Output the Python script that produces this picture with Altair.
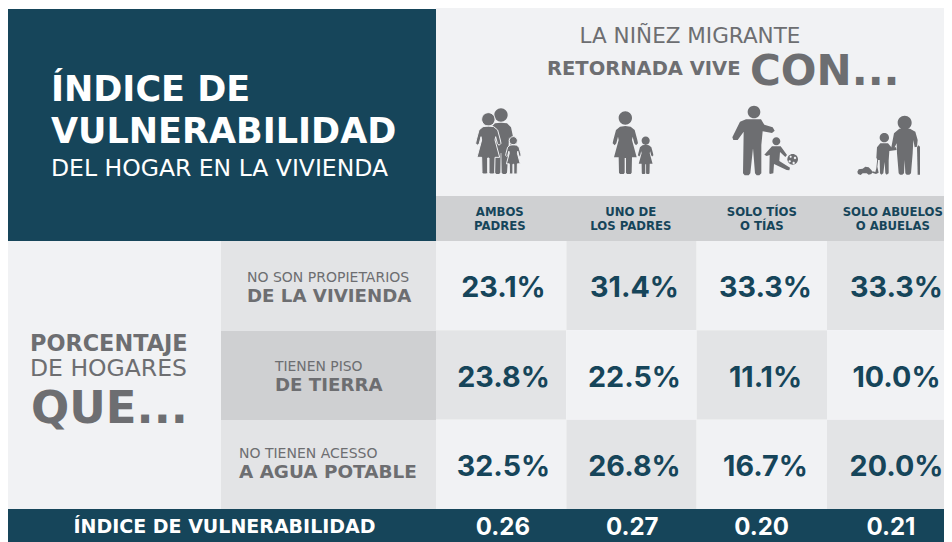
import altair as alt
import pandas as pd

FONT = "DejaVu Sans"
NUM_FONT = "Inter"
TEAL = "#16455a"
GREY = "#6d6e71"
LIGHT = "#f1f2f4"
MID = "#e3e4e6"
DARK = "#cfd0d2"
OX, OY = 8, 8

COLUMNS = ["Ambos padres", "Uno de los padres", "Solo tíos o tías", "Solo abuelos o abuelas"]
COLUMN_LABELS = ["AMBOS\nPADRES", "UNO DE\nLOS PADRES", "SOLO TÍOS\nO TÍAS", "SOLO ABUELOS\nO ABUELAS"]
ROWS = ["propietarios", "piso", "agua"]
NO_PROPIETARIOS = [23.1, 31.4, 33.3, 33.3]
PISO_TIERRA = [23.8, 22.5, 11.1, 10.0]
SIN_AGUA = [32.5, 26.8, 16.7, 20.0]
INDICE = [0.26, 0.27, 0.20, 0.21]

cell_rows = []
for r, (row, series) in enumerate(zip(ROWS, [NO_PROPIETARIOS, PISO_TIERRA, SIN_AGUA])):
    for c, (col, v) in enumerate(zip(COLUMNS, series)):
        cell_rows.append({"col": col, "row": row, "value": v,
                          "label": f"{v:.1f}%", "shade": "a" if (r + c) % 2 == 0 else "b"})
cells = pd.DataFrame(cell_rows)
index_df = pd.DataFrame({"col": COLUMNS, "label": [f"{v:.2f}" for v in INDICE]})
head_df = pd.DataFrame({"col": COLUMNS, "label": COLUMN_LABELS})

rect_x = alt.Scale(domain=COLUMNS, range=[428, 949.3], paddingInner=0, paddingOuter=0)
text_x = alt.Scale(domain=COLUMNS, range=[430, 954], paddingInner=0, paddingOuter=0)
head_x = alt.Scale(domain=COLUMNS, range=[426.3, 950.3], paddingInner=0, paddingOuter=0)
index_x = alt.Scale(domain=COLUMNS, range=[430.3, 947.6], paddingInner=0, paddingOuter=0)
row_y = alt.Scale(domain=ROWS, range=[233, 501], paddingInner=0, paddingOuter=0)


def box(x0, y0, x1, y1, color):
    return alt.Chart(pd.DataFrame({"a": [0]})).mark_rect(color=color, opacity=1).encode(
        x=alt.value(x0 - OX), x2=alt.value(x1 - OX), y=alt.value(y0 - OY), y2=alt.value(y1 - OY))


def label(text, x, y, size, color=GREY, weight="normal", align="left", font=FONT):
    return alt.Chart(pd.DataFrame({"t": [text]})).mark_text(
        font=font, fontSize=size, fontWeight=weight, color=color, align=align, baseline="alphabetic"
    ).encode(text="t:N", x=alt.value(x - OX), y=alt.value(y - OY))


def circle(cx, cy, r):
    k = 0.5523 * r
    return (("M", cx + r, cy), ("C", cx + r, cy + k, cx + k, cy + r, cx, cy + r),
            ("C", cx - k, cy + r, cx - r, cy + k, cx - r, cy),
            ("C", cx - r, cy - k, cx - k, cy - r, cx, cy - r),
            ("C", cx + k, cy - r, cx + r, cy - k, cx + r, cy), ("Z",))


def poly(pts):
    out = [("M", *pts[0])] + [("L", *p) for p in pts[1:]] + [("Z",)]
    return tuple(out)


WOMAN_HALF = [(0, 108), (16, 110), (28, 120), (36, 150), (38, 160), (32, 166), (27, 160), (22, 140),
              (20, 150), (34, 202), (20, 202), (19, 248), (16, 252), (5, 252), (2, 248), (2, 204), (0, 204)]
MAN_HALF = [(0, 98), (18, 100), (30, 112), (37, 145), (36, 165), (28, 165), (24, 140), (22, 185),
            (18, 248), (14, 252), (6, 252), (2, 248), (1, 190), (0, 188)]


def mirror(half, cx, scale=1.0, base=252):
    right = [(cx + x * scale, base - (base - y) * scale) for x, y in half]
    left = [(cx - x * scale, base - (base - y) * scale) for x, y in reversed(half[1:-1])]
    return right + left


def woman(cx, scale=1.0, head_y=88, base=252):
    r = 20 * scale
    return [circle(cx, base - (base - head_y) * scale, r), poly(mirror(WOMAN_HALF, cx, scale, base))]


def man(cx, head_y=75, base=252):
    return [circle(cx, head_y, 20), poly(mirror(MAN_HALF, cx, 1.0, base))]


def to_path(shapes, ox, oy, zx, zy):
    parts = []
    for shape in shapes:
        for seg in shape:
            cmd = seg[0]
            nums = seg[1:]
            conv = []
            for i in range(0, len(nums), 2):
                px = zx + nums[i] / 3 - ox
                py = zy + nums[i + 1] / 3 - oy
                conv += [f"{px / 100:.4f}", f"{py / 100:.4f}"]
            parts.append(cmd + " ".join(conv))
    return "".join(parts)


def icon(shapes, ax, ay, zx, zy, fill=GREY, stroke=None, sw=0.0):
    kw = {"stroke": stroke, "strokeWidth": sw} if stroke else {"strokeWidth": 0}
    return alt.Chart(pd.DataFrame({"a": [0]})).mark_point(
        shape=to_path(shapes, ax, ay, zx, zy), size=40000, filled=True, fill=fill, opacity=1, **kw
    ).encode(x=alt.value(ax - OX), y=alt.value(ay - OY))


Z1 = (436, 90)
Z2 = (696, 90)
icons = [
    icon(man(195), 498, 143, *Z1),
    icon(woman(157), 498, 143, *Z1, stroke=LIGHT, sw=1),
    icon(woman(232, 0.61), 498, 143, *Z1, stroke=LIGHT, sw=1),
    icon(woman(568, 1.0, 84), 625, 143, *Z1),
    icon(woman(629, 0.61), 625, 143, *Z1),
    icon([circle(174, 66, 19), poly([(150, 88), (195, 88), (205, 104), (230, 112), (236, 122), (228, 129), (200, 124),
                                     (196, 165), (196, 250), (190, 256), (182, 256), (177, 250), (171, 175), (163, 250),
                                     (158, 256), (146, 256), (141, 250), (143, 125), (125, 150), (112, 150), (109, 142),
                                     (132, 95)])], 762, 143, *Z2),
    icon([circle(241, 154, 12), poly([(228, 169), (254, 169), (273, 195), (268, 201), (252, 186), (250, 213), (282, 233),
                                      (280, 241), (272, 240), (234, 222), (232, 250), (222, 252), (220, 250), (221, 195),
                                      (212, 198), (205, 194)])], 762, 143, *Z2),
    icon([circle(290, 208, 16)], 762, 143, *Z2),
    icon([circle(284, 200, 3), circle(297, 204, 3.5), circle(281, 214, 3.5), circle(293, 219, 3.5)], 762, 143, *Z2, fill=LIGHT),
    icon([circle(626, 98, 21), poly([(610, 116), (642, 116), (658, 125), (665, 150), (663, 170), (656, 172), (652, 150),
                                     (650, 190), (645, 250), (640, 254), (632, 254), (628, 250), (626, 210), (624, 250),
                                     (619, 254), (612, 254), (608, 250), (603, 190), (602, 160), (592, 180), (586, 172),
                                     (594, 130)])], 890, 143, *Z2),
    icon([poly([(663, 172), (667, 166), (672, 170), (672, 254), (665, 254)])], 890, 143, *Z2),
    icon([circle(565, 143, 14), poly([(553, 160), (576, 160), (586, 172), (600, 172), (602, 180), (580, 183), (578, 212),
                                      (578, 250), (572, 254), (568, 250), (566, 216), (562, 250), (556, 254), (552, 250),
                                      (551, 210), (546, 210), (541, 204), (543, 172)])], 890, 143, *Z2),
    icon([poly([(544, 205), (547, 205), (544, 230), (548, 248), (540, 252), (528, 248), (530, 244), (538, 246), (541, 235)])], 890, 143, *Z2),
    icon([poly([(488, 238), (500, 236), (508, 230), (518, 232), (526, 240), (530, 246), (526, 252), (518, 254), (512, 250),
                (500, 250), (494, 255), (486, 252), (484, 245)])], 890, 143, *Z2),
]

layers = [
    box(436, 8, 952, 241, LIGHT),
    box(8, 241, 221, 509, LIGHT),
    box(436, 196, 952, 241, DARK),
    box(221, 241, 436, 331, MID),
    box(221, 331, 436, 420, DARK),
    box(221, 420, 436, 509, MID),
    alt.Chart(cells).mark_rect(opacity=1, clip=True).encode(
        x=alt.X("col:N", scale=rect_x, axis=None),
        y=alt.Y("row:N", scale=row_y, axis=None),
        color=alt.Color("shade:N", scale=alt.Scale(domain=["a", "b"], range=[LIGHT, MID]), legend=None),
    ),
    box(8, 9, 436, 241, TEAL),
    box(8, 509, 952, 542, TEAL),
    label("ÍNDICE DE", 51, 101, 35, "#ffffff", "bold"),
    label("VULNERABILIDAD", 51, 143, 35, "#ffffff", "bold"),
    label("DEL HOGAR EN LA VIVIENDA", 51, 176, 23.5, "#ffffff"),
    label("LA NIÑEZ MIGRANTE", 690, 43, 21.5, GREY, align="center"),
    label("RETORNADA VIVE", 547, 75, 19.5, GREY, "bold"),
    label("CON...", 750, 85, 42, GREY, "bold"),
    label("PORCENTAJE", 30, 351, 22.4, GREY, "bold"),
    label("DE HOGARES", 30, 376, 23.5, GREY),
    label("QUE...", 31, 423, 45, GREY, "bold"),
    label("NO SON PROPIETARIOS", 247, 282, 14, GREY),
    label("DE LA VIVIENDA", 247, 302, 18.2, GREY, "bold"),
    label("TIENEN PISO", 275, 371, 13.9, GREY),
    label("DE TIERRA", 275, 391, 18.2, GREY, "bold"),
    label("NO TIENEN ACESSO", 239, 458, 14, GREY),
    label("A AGUA POTABLE", 239, 478, 18.4, GREY, "bold"),
    label("ÍNDICE DE VULNERABILIDAD", 224.5, 533, 19, "#ffffff", "bold", "center"),
    alt.Chart(head_df).mark_text(font=FONT, fontSize=11.7, fontWeight="bold", color=TEAL, align="center",
                                 baseline="middle", lineBreak="\n", lineHeight=14).encode(
        text="label:N", x=alt.X("col:N", scale=head_x, axis=None), y=alt.value(212 - OY)),
    alt.Chart(cells).mark_text(font=NUM_FONT, fontSize=28.7, fontWeight="bold", color=TEAL, align="center",
                               baseline="middle", dy=2.5).encode(
        text="label:N", x=alt.X("col:N", scale=text_x, axis=None), y=alt.Y("row:N", scale=row_y, axis=None)),
    alt.Chart(index_df).mark_text(font=NUM_FONT, fontSize=24, fontWeight="bold", color="#ffffff", align="center",
                                  baseline="alphabetic").encode(
        text="label:N", x=alt.X("col:N", scale=index_x, axis=None), y=alt.value(535 - OY)),
] + icons

chart = alt.layer(*layers).resolve_scale(x="independent", y="independent", color="independent").properties(
    width=936, height=534, padding=0, autosize=alt.AutoSizeParams(type="none"), background="#ffffff",
).configure_view(stroke=None)

chart.save("out.html", embed_options={"renderer": "svg", "actions": False})
